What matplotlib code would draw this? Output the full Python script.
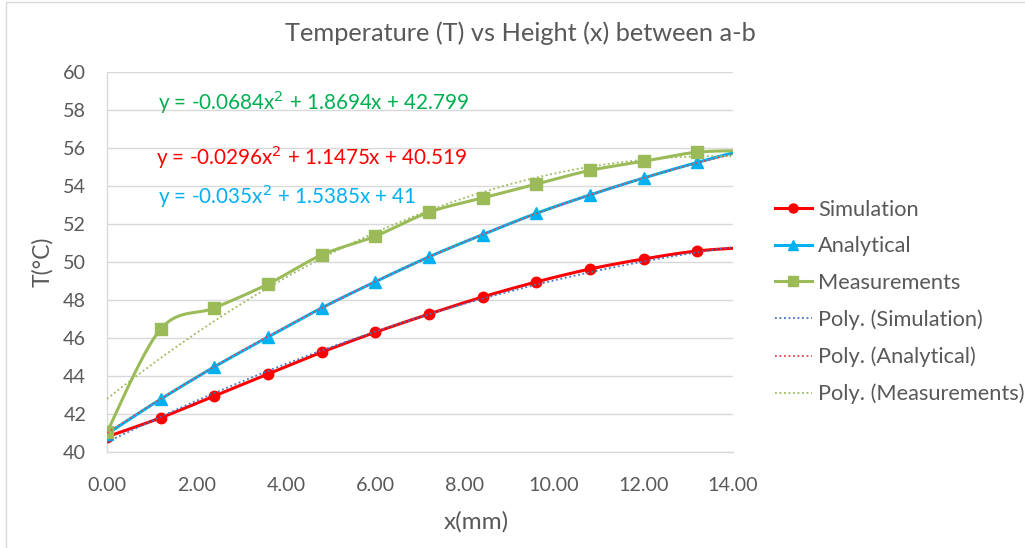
import numpy as np
import matplotlib
matplotlib.use("Agg")
import matplotlib.pyplot as plt
from matplotlib.lines import Line2D
from matplotlib.patches import Rectangle

plt.rcParams['font.family'] = ['Lato', 'DejaVu Sans']

# Heights along a-b (mm)
x_mm = [0.0, 1.2, 2.4, 3.6, 4.8, 6.0, 7.2, 8.4, 9.6, 10.8, 12.0, 13.2, 14.4]

# Temperatures (°C)
simulation = [40.8, 41.8, 42.95, 44.1, 45.25, 46.3, 47.26, 48.16, 48.95, 49.63, 50.16, 50.58, 50.78]
analytical = [40.95, 42.78, 44.48, 46.05, 47.58, 48.96, 50.27, 51.44, 52.56, 53.53, 54.42, 55.24, 56.0]
measurements = [41.05, 46.47, 47.58, 48.84, 50.37, 51.36, 52.62, 53.37, 54.1, 54.82, 55.3, 55.78, 55.86]

# Second-order trendline coefficients (a, b, c) for a*x^2 + b*x + c
fit_simulation = [-0.0296, 1.1475, 40.519]
fit_analytical = [-0.035, 1.5385, 41.0]
fit_measurements = [-0.0684, 1.8694, 42.799]

series_names = ["Simulation", "Analytical", "Measurements"]
trend_names = ["Poly. (Simulation)", "Poly. (Analytical)", "Poly. (Measurements)"]

x_ticks = [0, 2, 4, 6, 8, 10, 12, 14]
y_ticks = [40, 42, 44, 46, 48, 50, 52, 54, 56, 58, 60]

RED = "#FF0000"
BLUE = "#00B0F0"
GREEN = "#9BBB59"
TEXT = "#595959"
GRID = "#D9D9D9"

W, H = 1025, 548


def smooth(xs, ys, n=30):
    """Catmull-Rom style smoothing through every point."""
    xs = np.asarray(xs, float)
    ys = np.asarray(ys, float)
    px = np.concatenate([[xs[0]], xs, [xs[-1]]])
    py = np.concatenate([[ys[0]], ys, [ys[-1]]])
    out_x, out_y = [], []
    for i in range(1, len(px) - 2):
        p0 = np.array([px[i - 1], py[i - 1]])
        p1 = np.array([px[i], py[i]])
        p2 = np.array([px[i + 1], py[i + 1]])
        p3 = np.array([px[i + 2], py[i + 2]])
        c1 = p1 + (p2 - p0) / 6.0
        c2 = p2 - (p3 - p1) / 6.0
        t = np.linspace(0, 1, n)[:, None]
        pts = ((1 - t) ** 3) * p1 + 3 * ((1 - t) ** 2) * t * c1 + 3 * (1 - t) * t ** 2 * c2 + t ** 3 * p2
        out_x.extend(pts[:, 0])
        out_y.extend(pts[:, 1])
    return np.array(out_x), np.array(out_y)


fig = plt.figure(figsize=(W / 100, H / 100), dpi=100)
# chart area border
fig.patches.append(Rectangle((6 / W, -0.05), 1.1, (H - 2) / H + 0.05,
                             transform=fig.transFigure, fill=False,
                             edgecolor="#D9D9D9", linewidth=1.0))

ax = fig.add_axes([107 / W, 1 - 452 / H, (733 - 107) / W, (452 - 72) / H])

ax.set_xlim(0, 14)
ax.set_ylim(40, 60)
ax.set_xticks(x_ticks)
ax.set_xticklabels([f"{v:.2f}" for v in x_ticks])
ax.set_yticks(y_ticks)
ax.grid(axis="y", color=GRID, linewidth=1.0)
ax.set_axisbelow(True)
for s in ["top", "right"]:
    ax.spines[s].set_visible(False)
for s in ["left", "bottom"]:
    ax.spines[s].set_color(GRID)
    ax.spines[s].set_linewidth(1.0)
ax.tick_params(axis="both", length=0, labelsize=14.2, colors=TEXT)
ax.tick_params(axis="x", pad=18)
ax.tick_params(axis="y", pad=15)

# data series with smoothed lines
styles = [(simulation, RED, "o", 7.5), (analytical, BLUE, "^", 8.5), (measurements, GREEN, "s", 8.5)]
for ys, col, mk, ms in styles:
    sx, sy = smooth(x_mm, ys)
    ax.plot(sx, sy, color=col, linewidth=2.2, solid_capstyle="round", zorder=3)
    ax.plot(x_mm, ys, linestyle="none", marker=mk, markersize=ms, color=col, zorder=4)

# polynomial trendlines
xt = np.linspace(0, 14, 300)
trend_styles = [(fit_simulation, "#4472C4"), (fit_analytical, "#E0474C"), (fit_measurements, GREEN)]
for (a, b, c), col in trend_styles:
    ax.plot(xt, a * xt ** 2 + b * xt + c, color=col, linestyle=(0, (1, 1.5)), linewidth=1.3, zorder=5)

# trendline equations
ax.text(1.15, 58.4, r"y = -0.0684x$^2$ + 1.8694x + 42.799", color="#00B050", fontsize=14.9,
        va="center", ha="left")
ax.text(1.1, 55.5, r"y = -0.0296x$^2$ + 1.1475x + 40.519", color=RED, fontsize=14.9,
        va="center", ha="left")
ax.text(1.15, 53.45, r"y = -0.035x$^2$ + 1.5385x + 41", color=BLUE, fontsize=14.9,
        va="center", ha="left")

fig.text(476 / W, 1 - 522 / H, "x(mm)", ha="center", va="center", fontsize=17.5, color=TEXT)
fig.text(42 / W, 1 - 262 / H, "T(°C)", ha="center", va="center", rotation=90,
         fontsize=16.5, color=TEXT)
fig.text(520 / W, 1 - 33 / H, "Temperature (T) vs Height (x) between a-b",
         ha="center", va="center", fontsize=18.3, color=TEXT)

handles = [
    Line2D([], [], color=RED, marker="o", markersize=6.5, linewidth=2.2),
    Line2D([], [], color=BLUE, marker="^", markersize=7, linewidth=2.2),
    Line2D([], [], color=GREEN, marker="s", markersize=7, linewidth=2.2),
    Line2D([], [], color="#4472C4", linestyle=(0, (1, 1.5)), linewidth=1.3),
    Line2D([], [], color="#E0474C", linestyle=(0, (1, 1.5)), linewidth=1.3),
    Line2D([], [], color=GREEN, linestyle=(0, (1, 1.5)), linewidth=1.3),
]
leg = fig.legend(handles, series_names + trend_names, loc="upper left",
                 bbox_to_anchor=(766 / W, 1 - 191 / H), frameon=False,
                 fontsize=15.7, handlelength=1.7, handletextpad=0.3,
                 labelspacing=0.76, borderaxespad=0)
for t in leg.get_texts():
    t.set_color(TEXT)

fig.savefig("out.png", dpi=100)
